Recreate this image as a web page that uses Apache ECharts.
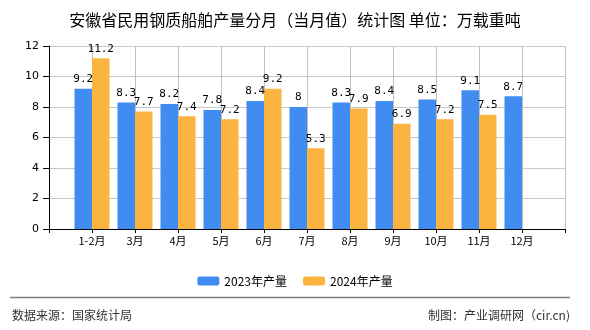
<!DOCTYPE html>
<html>
<head>
<meta charset="utf-8">
<script src="https://cdn.jsdelivr.net/npm/echarts@6/dist/echarts.min.js"></script>
<style>html,body{margin:0;padding:0;background:#fff}#c{width:590px;height:330px}</style>
</head>
<body>
<div id="c"></div>
<script>
var categories = ['', '1-2月', '3月', '4月', '5月', '6月', '7月', '8月', '9月', '10月', '11月', '12月', ''];
var values2023 = [null, 9.2, 8.3, 8.2, 7.8, 8.4, 8, 8.3, 8.4, 8.5, 9.1, 8.7, null];
var values2024 = [null, 11.2, 7.7, 7.4, 7.2, 9.2, 5.3, 7.9, 6.9, 7.2, 7.5, null, null];
var yTicks = {min: 0, max: 12, interval: 2};
var titleText = '安徽省民用钢质船舶产量分月（当月值）统计图 单位：万载重吨';
var seriesNames = ['2023年产量', '2024年产量'];
var sourceText = '数据来源：国家统计局';
var makerText = '制图：产业调研网（cir.cn)';

var chart = echarts.init(document.getElementById('c'), null, {renderer: 'canvas'});
var labelStyle = {show: true, position: 'top', distance: 4, color: '#000', fontFamily: 'DejaVu Sans Mono', fontSize: 11};
chart.setOption({
  animation: false,
  backgroundColor: '#fff',
  title: {text: titleText, left: 'center', top: 7, textStyle: {fontFamily: 'Noto Sans CJK SC', fontSize: 16, fontWeight: 'normal', color: '#000'}},
  legend: {
    data: seriesNames, left: 'center', top: 270, itemWidth: 22, itemHeight: 9, itemGap: 16,
    textStyle: {fontFamily: 'Noto Sans CJK SC', fontSize: 12, color: '#000'}
  },
  grid: {left: 49, right: 25, top: 46, bottom: 101, containLabel: false},
  xAxis: {
    type: 'category', data: categories, boundaryGap: false,
    axisLine: {lineStyle: {color: '#000', width: 1}},
    axisTick: {show: true, interval: 0, length: 4, lineStyle: {color: '#000'}},
    axisLabel: {interval: 0, margin: 6, color: '#000', fontFamily: 'Noto Sans CJK SC', fontSize: 11},
    splitLine: {show: true, interval: function () { return true; }, lineStyle: {color: '#c0c0c0', width: 1, type: 'solid'}}
  },
  yAxis: {
    type: 'value', min: yTicks.min, max: yTicks.max, interval: yTicks.interval,
    axisLine: {show: true, lineStyle: {color: '#000', width: 1}},
    axisTick: {show: true, length: 6, lineStyle: {color: '#000'}},
    axisLabel: {margin: 10, color: '#000', fontFamily: 'DejaVu Sans', fontSize: 11},
    splitLine: {show: true, lineStyle: {color: '#c8c8c8', width: 1}}
  },
  series: [
    {name: seriesNames[0], type: 'bar', data: values2023, barWidth: 17.5, barGap: '0%', itemStyle: {color: '#418CF0'}, label: labelStyle, z: 3},
    {name: seriesNames[1], type: 'bar', data: values2024, barWidth: 17.5, barGap: '0%', itemStyle: {color: '#FCB441'}, label: labelStyle, z: 3}
  ],
  graphic: [
    {type: 'line', shape: {x1: 10, y1: 297.5, x2: 570, y2: 297.5}, style: {stroke: '#808080', lineWidth: 1.5}},
    {type: 'text', left: 12, top: 309, style: {text: sourceText, fill: '#333', font: '12px "Noto Sans CJK SC"'}},
    {type: 'text', right: 20, top: 309, style: {text: makerText, fill: '#333', font: '12px "Noto Sans CJK SC"'}}
  ]
});
</script>
</body>
</html>
